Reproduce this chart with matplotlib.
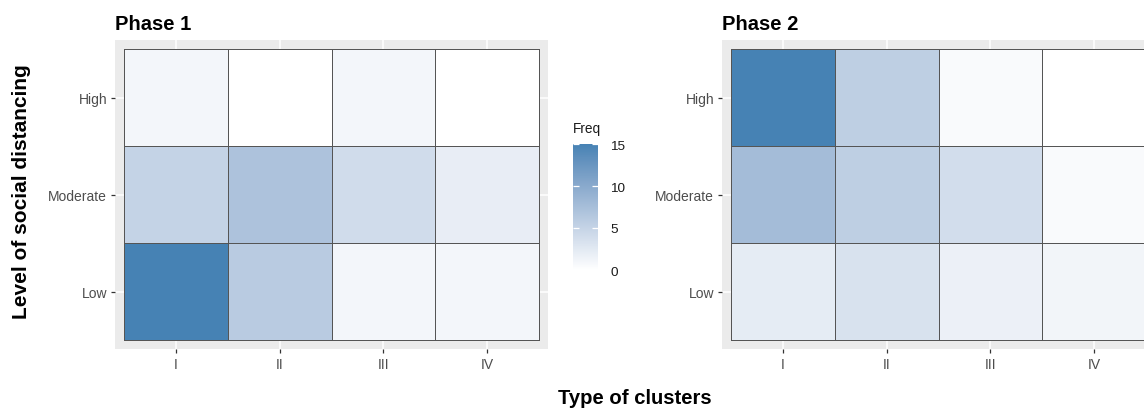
import numpy as np
import matplotlib
matplotlib.use("Agg")
import matplotlib.pyplot as plt
from matplotlib.colors import ListedColormap, Normalize, to_rgb

plt.rcParams['font.family'] = ['Liberation Sans', 'DejaVu Sans']

# ---------------- data ----------------
clusters = ['I', 'II', 'III', 'IV']
levels = ['Low', 'Moderate', 'High']

phase1_low = [15, 6, 1, 1]
phase1_moderate = [5, 7, 4, 2]
phase1_high = [1, 0, 1, 0]

phase2_low = [4, 6, 3, 2]
phase2_moderate = [14, 10, 7, 1]
phase2_high = [27, 10, 1, 0]

legend_ticks = [0, 5, 10, 15]
titles = ['Phase 1', 'Phase 2']

# ---------------- Lab gradient (white -> steelblue) ----------------
WHITE_REF = np.array([0.95047, 1.0, 1.08883])
M = np.array([[0.4124564, 0.3575761, 0.1804375],
              [0.2126729, 0.7151522, 0.0721750],
              [0.0193339, 0.1191920, 0.9503041]])
Minv = np.linalg.inv(M)


def srgb_to_lab(c):
    c = np.asarray(c, float)
    lin = np.where(c <= 0.04045, c / 12.92, ((c + 0.055) / 1.055) ** 2.4)
    xyz = M @ lin / WHITE_REF
    d = 6 / 29
    f = np.where(xyz > d ** 3, np.cbrt(xyz), xyz / (3 * d * d) + 4 / 29)
    return np.array([116 * f[1] - 16, 500 * (f[0] - f[1]), 200 * (f[1] - f[2])])


def lab_to_srgb(lab):
    L, a, b = lab
    fy = (L + 16) / 116
    fx = fy + a / 500
    fz = fy - b / 200
    d = 6 / 29
    f = np.array([fx, fy, fz])
    xyz = np.where(f > d, f ** 3, 3 * d * d * (f - 4 / 29)) * WHITE_REF
    lin = Minv @ xyz
    lin = np.clip(lin, 0, 1)
    c = np.where(lin <= 0.0031308, 12.92 * lin, 1.055 * lin ** (1 / 2.4) - 0.055)
    return np.clip(c, 0, 1)


lab_lo = srgb_to_lab(to_rgb('white'))
lab_hi = srgb_to_lab(to_rgb('steelblue'))
cols = [lab_to_srgb(lab_lo + t * (lab_hi - lab_lo)) for t in np.linspace(0, 1, 300)]
cmap = ListedColormap(cols)

# ---------------- figure ----------------
W, H = 1144, 410
fig = plt.figure(figsize=(W / 100, H / 100), dpi=100)

tick_col = '#4D4D4D'
panels = [
    (np.array([phase1_low, phase1_moderate, phase1_high]), 115),
    (np.array([phase2_low, phase2_moderate, phase2_high]), 722),
]

for i, (mat, left_px) in enumerate(panels):
    ax = fig.add_axes([left_px / W, 1 - 350 / H, 433 / W, 309 / H])
    ax.set_facecolor('#EBEBEB')
    for s in ax.spines.values():
        s.set_visible(False)
    xe = np.arange(len(clusters) + 1) + 0.5
    ye = np.arange(len(levels) + 1) + 0.5
    norm = Normalize(vmin=0, vmax=mat.max())
    mesh = ax.pcolormesh(xe, ye, mat, cmap=cmap, norm=norm,
                         edgecolors='#555555', linewidth=0.6, zorder=2)
    if i == 0:
        mesh1 = mesh
    ax.set_xticks(np.arange(1, len(clusters) + 1))
    ax.set_xticklabels(clusters)
    ax.set_yticks(np.arange(1, len(levels) + 1))
    ax.set_yticklabels(levels)
    ax.set_xlim(0.5 - 9 / 103.75, len(clusters) + 0.5 + 9 / 103.75)
    ax.set_ylim(0.5 - 9 / 97, len(levels) + 0.5 + 9 / 97)
    ax.grid(True, color='white', linewidth=1.1, zorder=1)
    ax.set_axisbelow(True)
    ax.tick_params(axis='both', length=3.2, width=0.9, color='#333333',
                   labelsize=10, labelcolor=tick_col, pad=2.5)
    ax.text(0, 1 + 11 / 309, titles[i], transform=ax.transAxes, fontsize=14.5,
            fontweight='bold', ha='left', va='baseline', color='black')

# colorbar (Phase 1 legend)
cax = fig.add_axes([573 / W, 1 - 271 / H, 25 / W, 126 / H])
cb = fig.colorbar(mesh1, cax=cax)
cb.outline.set_visible(False)
cb.set_ticks(legend_ticks)
cb.ax.tick_params(direction='in', left=True, right=True, color='white',
                  length=4.5, width=0.9, labelsize=9.7, labelcolor='#1A1A1A', pad=9)
cax.text(0, 1.07, 'Freq', transform=cax.transAxes, fontsize=9.8,
         ha='left', va='bottom', color='#1A1A1A')

# shared axis titles
fig.text(22 / W, 1 - 192 / H, 'Level of social distancing', rotation=90,
         fontsize=15, fontweight='bold', ha='center', va='center')
fig.text(635 / W, 1 - 399 / H, 'Type of clusters', fontsize=14.6,
         fontweight='bold', ha='center', va='center')

fig.savefig('out.png', dpi=100)
